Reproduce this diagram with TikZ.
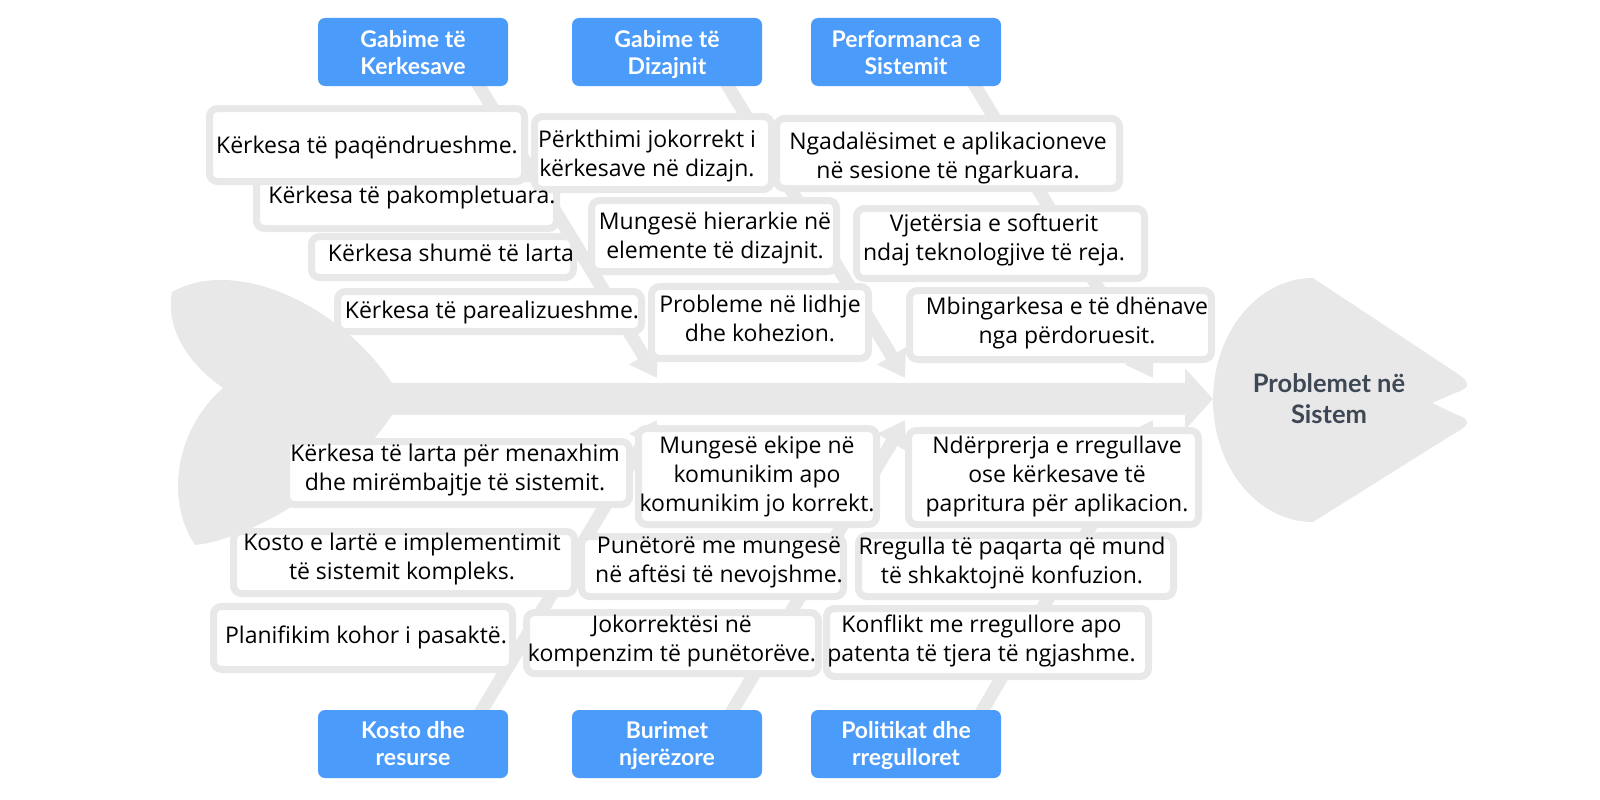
\documentclass[tikz,border=0pt]{standalone}
\usepackage{fontspec}
\setmainfont{Open Sans}
\newfontfamily\lato{Lato}
\usetikzlibrary{arrows.meta,calc}
\definecolor{fishgray}{HTML}{E8E8E8}
\definecolor{catblue}{HTML}{4B9BFA}
\definecolor{headtxt}{HTML}{3E4854}
\pgfdeclarelayer{bg}
\pgfsetlayers{bg,main}
\begin{document}
\begin{tikzpicture}[x=1pt,y=-1pt,
  cat/.style={fill=catblue, rounded corners=7pt, minimum width=190pt, minimum height=68pt, inner sep=0pt},
  cattext/.style={font=\lato\bfseries\fontsize{23}{27}\selectfont, text=white, align=center, inner sep=0pt,
     execute at begin node=\strut, execute at end node=\strut},
  headtext/.style={font=\lato\bfseries\fontsize{25.5}{31}\selectfont, text=headtxt, align=center, inner sep=0pt,
     execute at begin node=\strut, execute at end node=\strut},
  cbox/.style={draw=fishgray, line width=7pt, fill=white, rounded corners=8pt, inner sep=0pt},
  ctext/.style={font=\fontsize{23}{29}\selectfont, align=center, inner sep=0pt,
     execute at begin node=\strut, execute at end node=\strut},
  branch/.style={draw=fishgray, line width=13pt, -{Triangle[length=26pt,width=32pt]}},
]
\useasboundingbox (0,0) rectangle (1600,800);

% category boxes
\node[cat] (k1) at (413,52) {};
\node[cat] (k2) at (667,52) {};
\node[cat] (k3) at (906,52) {};
\node[cat] (k4) at (413,744) {};
\node[cat] (k5) at (667,744) {};
\node[cat] (k6) at (906,744) {};
\node[cattext] (k1t) at (413,56.6) {Gabime të\\Kerkesave};
\node[cattext] (k2t) at (667,56.6) {Gabime të\\Dizajnit};
\node[cattext] (k3t) at (906,56.6) {Performanca e\\Sistemit};
\node[cattext] (k4t) at (413,747.6) {Kosto dhe\\resurse};
\node[cattext] (k5t) at (667,747.6) {Burimet\\njerëzore};
\node[cattext] (k6t) at (906,747.6) {Politikat dhe\\rregulloret};

% cause boxes
\node[cbox, minimum width=300pt, minimum height=50pt] (a2) at (406.5,203.5) {};
\node[cbox, minimum width=315pt, minimum height=73pt] (a1) at (367,145) {};
\node[cbox, minimum width=262pt, minimum height=41pt] (a3) at (442.5,257) {};
\node[cbox, minimum width=304pt, minimum height=40pt] (a4) at (489.5,311.5) {};
\node[cbox, minimum width=237pt, minimum height=73pt] (b1) at (653,153) {};
\node[cbox, minimum width=245pt, minimum height=71pt] (b2) at (714,236) {};
\node[cbox, minimum width=217pt, minimum height=72pt] (b3) at (760,322.5) {};
\node[cbox, minimum width=343pt, minimum height=70pt] (c1) at (948,153.5) {};
\node[cbox, minimum width=288pt, minimum height=70pt] (c2) at (1000.5,243.5) {};
\node[cbox, minimum width=302pt, minimum height=69pt] (c3) at (1060.5,325) {};
\node[cbox, minimum width=343pt, minimum height=63pt] (d1) at (458,473) {};
\node[cbox, minimum width=341pt, minimum height=62pt] (d2) at (404,562.5) {};
\node[cbox, minimum width=299pt, minimum height=63pt] (d3) at (363,638) {};
\node[cbox, minimum width=238pt, minimum height=96pt] (e1) at (757.5,476.5) {};
\node[cbox, minimum width=262pt, minimum height=60pt] (e2) at (712.5,566.5) {};
\node[cbox, minimum width=292pt, minimum height=61pt] (e3) at (672.5,643) {};
\node[cbox, minimum width=290pt, minimum height=94pt] (f1) at (1053.5,477.5) {};
\node[cbox, minimum width=315pt, minimum height=61pt] (f2) at (1016,566) {};
\node[cbox, minimum width=322pt, minimum height=68pt] (f3) at (987.5,642.5) {};

% cause texts
\node[ctext] (a1t) at (367,147.2) {Kërkesa të paqëndrueshme.};
\node[ctext] (a2t) at (412,197.2) {Kërkesa të pakompletuara.};
\node[ctext] (a3t) at (451,255.2) {Kërkesa shumë të larta};
\node[ctext] (a4t) at (492,312.2) {Kërkesa të parealizueshme.};
\node[ctext] (b1t) at (647,157.7) {Përkthimi jokorrekt i\\kërkesave në dizajn.};
\node[ctext] (b2t) at (715,239.7) {Mungesë hierarkie në\\elemente të dizajnit.};
\node[ctext] (b3t) at (760,322.2) {Probleme në lidhje\\dhe kohezion.};
\node[ctext] (c1t) at (948,159.2) {Ngadalësimet e aplikacioneve\\në sesione të ngarkuara.};
\node[ctext] (c2t) at (994,241.7) {Vjetërsia e softuerit\\ndaj teknologjive të reja.};
\node[ctext] (c3t) at (1067,324.7) {Mbingarkesa e të dhënave\\nga përdoruesit.};
\node[ctext] (d1t) at (455,471.7) {Kërkesa të larta për menaxhim\\dhe mirëmbajtje të sistemit.};
\node[ctext] (d2t) at (402,560.2) {Kosto e lartë e implementimit\\të sistemit kompleks.};
\node[ctext] (d3t) at (366,637.2) {Planifikim kohor i pasaktë.};
\node[ctext] (e1t) at (757,478.2) {Mungesë ekipe në\\komunikim apo\\komunikim jo korrekt.};
\node[ctext] (e2t) at (719,564.2) {Punëtorë me mungesë\\në aftësi të nevojshme.};
\node[ctext] (e3t) at (672,642.7) {Jokorrektësi në\\kompenzim të punëtorëve.};
\node[ctext] (f1t) at (1057,478.2) {Ndërprerja e rregullave\\ose kërkesave të\\papritura për aplikacion.};
\node[ctext] (f2t) at (1012,564.2) {Rregulla të paqarta që mund\\të shkaktojnë konfuzion.};
\node[ctext] (f3t) at (981.5,642.7) {Konflikt me rregullore apo\\patenta të tjera të ngjashme.};

% head text
\node[headtext] (head) at (1329,403.5) {Problemet në\\Sistem};

% arrow tips on spine
\coordinate (t1) at (657,378);
\coordinate (t2) at (905,378);
\coordinate (t3) at (1153,378);
\coordinate (t4) at (657,420);
\coordinate (t5) at (905,420);
\coordinate (t6) at (1153,420);
\coordinate (tail) at (380,399);
\coordinate (spinetip) at (1213,399);

\begin{pgfonlayer}{bg}
  % tail
  \fill[fishgray] (392,383) .. controls (340,305) and (236,256) .. (172,292)
     .. controls (165,330) and (190,365) .. (223,388)
     .. controls (175,430) and (165,500) .. (195,545)
     .. controls (250,540) and (350,480) .. (392,415) -- cycle;
  % spine
  \draw[fishgray, line width=32pt, -{Triangle[length=28pt,width=60pt]}] (tail) -- (spinetip);
  % head
  \fill[fishgray] (1313,278) -- (1455,372) .. controls (1471,382) and (1471,388) .. (1455,393)
     -- (1432,403) -- (1455,414) .. controls (1471,419) and (1471,425) .. (1455,433)
     -- (1313,522) arc[start angle=90, end angle=270, x radius=100, y radius=122] -- cycle;
  % branches
  \draw[branch] ($(k1.south)+(54,-20)$) -- (t1);
  \draw[branch] ($(k2.south)+(49,-20)$) -- (t2);
  \draw[branch] ($(k3.south)+(57,-20)$) -- (t3);
  \draw[branch] ($(k4.north)+(57,20)$) -- (t4);
  \draw[branch] ($(k5.north)+(54,20)$) -- (t5);
  \draw[branch] ($(k6.north)+(65,20)$) -- (t6);
\end{pgfonlayer}
\end{tikzpicture}
\end{document}
